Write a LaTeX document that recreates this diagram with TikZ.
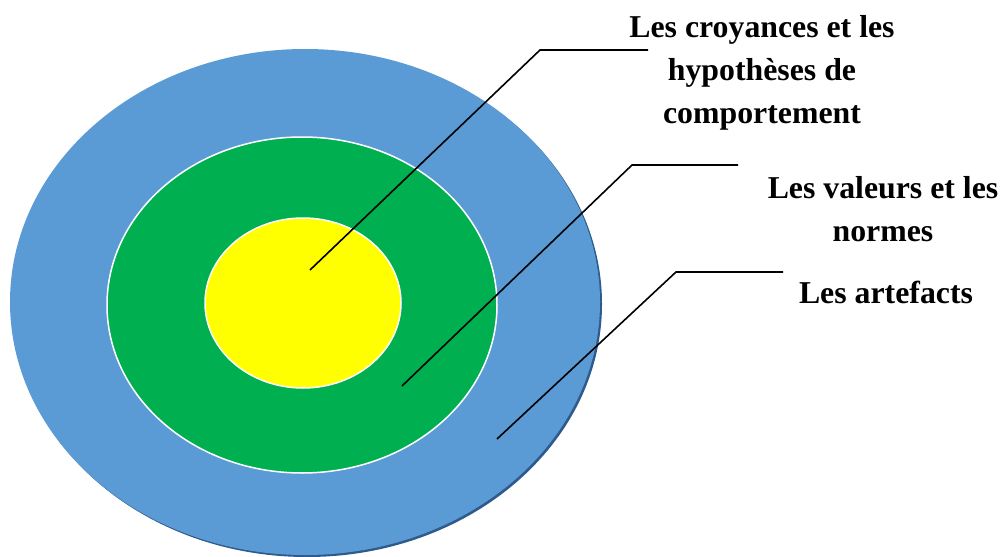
\documentclass[tikz,border=0pt]{standalone}
\usepackage{fontspec}
\setmainfont{Liberation Serif}
\usepackage{tikz}

\definecolor{ringblue}{HTML}{5B9BD5}
\definecolor{ringshadow}{HTML}{2E5B8C}
\definecolor{ringgreen}{HTML}{00B050}
\definecolor{ringyellow}{HTML}{FFFF00}

\begin{document}
\begin{tikzpicture}[x=1pt, y=-1pt,
    ring/.style={draw=white, line width=1.5pt},
    leader/.style={draw=black, line width=1.6pt},
    layertext/.style={align=center, anchor=base, inner sep=0pt,
        font=\bfseries\fontsize{31.8}{43}\selectfont}]

        \useasboundingbox (0,0) rectangle (1002,557);

        % ====================
        % 1. Rings
        % ====================
        \fill[ringshadow] (307,304) ellipse [x radius=295pt, y radius=253pt];
        \fill[ringblue] (305,302) ellipse [x radius=295pt, y radius=253pt];
        \path[ring, fill=ringgreen] (302,305) ellipse [x radius=195pt, y radius=168pt];
        \path[ring, fill=ringyellow] (303,303) ellipse [x radius=98pt, y radius=85pt];

        % ====================
        % 2. Texts (base = last line)
        % ====================
        \node[layertext] (croyances) at (762,123) {Les croyances et les\\hypothèses de\\comportement};
        \node[layertext] (valeurs) at (883,241) {Les valeurs et les\\normes};
        \node[layertext] (artefacts) at (886,303) {Les artefacts};

        % ====================
        % 3. Leaders
        % ====================
        \coordinate (core) at (310,270);
        \coordinate (coreknee) at (540,50);
        \coordinate (coreend) at (648,50);
        \draw[leader] (core) -- (coreknee) -- (coreend);

        \coordinate (middle) at (402,386);
        \coordinate (middleknee) at (632,165);
        \coordinate (middleend) at (738,165);
        \draw[leader] (middle) -- (middleknee) -- (middleend);

        \coordinate (outer) at (497,439);
        \coordinate (outerknee) at (676,272);
        \coordinate (outerend) at (783,272);
        \draw[leader] (outer) -- (outerknee) -- (outerend);

    \end{tikzpicture}
\end{document}
